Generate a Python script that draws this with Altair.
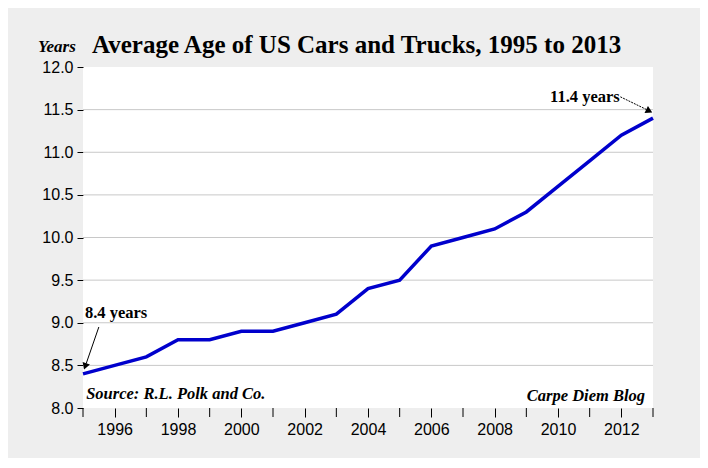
import altair as alt
import pandas as pd

years = list(range(1995, 2014))
ages = [8.4, 8.5, 8.6, 8.8, 8.8, 8.9, 8.9, 9.0, 9.1, 9.4, 9.5, 9.9, 10.0,
        10.1, 10.3, 10.6, 10.9, 11.2, 11.4]
label_years = [1996, 1998, 2000, 2002, 2004, 2006, 2008, 2010, 2012]
odd_years = [1995, 1997, 1999, 2001, 2003, 2005, 2007, 2009, 2011, 2013]
y_ticks = [8.0, 8.5, 9.0, 9.5, 10.0, 10.5, 11.0, 11.5, 12.0]
grid_vals = [8.5, 9.0, 9.5, 10.0, 10.5, 11.0, 11.5]

df = pd.DataFrame({"year": years, "age": ages})

x_scale = alt.Scale(domain=[1995, 2013], nice=False, zero=False)
y_scale = alt.Scale(domain=[8, 12], nice=False, zero=False)

SERIF = "Liberation Serif"
SANS = "Liberation Sans"

grid = alt.Chart(pd.DataFrame({"g": grid_vals})).mark_rule(
    color="#C8C8C8", strokeWidth=1).encode(y=alt.Y("g:Q", scale=y_scale))

line = alt.Chart(df).mark_line(color="#0000CC", strokeWidth=3.5).encode(
    x=alt.X("year:Q", scale=x_scale, title=None,
            axis=alt.Axis(values=label_years, format="d",
                          labelOverlap=False, labelFlush=False, grid=False,
                          domain=False, ticks=True, tickSize=9, tickColor="black",
                          labelPadding=4, labelFont=SANS, labelFontSize=16,
                          labelColor="black")),
    y=alt.Y("age:Q", scale=y_scale, title=None,
            axis=alt.Axis(values=y_ticks, format=".1f", grid=False, domain=False,
                          tickSize=6, tickColor="black", labelPadding=4,
                          labelFont=SANS, labelFontSize=16, labelColor="black")),
)

# minor (odd-year) ticks below the plot, same length as the axis ticks
odd_ticks = alt.Chart(pd.DataFrame({"yr": odd_years})).mark_rule(
    color="black", strokeWidth=1, clip=False).encode(
    x=alt.X("yr:Q", scale=x_scale), y=alt.value(341), y2=alt.value(350))

# annotation arrows (data coordinates)
arr1 = pd.DataFrame({"x": [1995.5], "y": [8.95], "x2": [1995.1], "y2": [8.52]})
arr2 = pd.DataFrame({"x": [2011.97], "y": [11.65], "x2": [2012.8], "y2": [11.5]})
rule1 = alt.Chart(arr1).mark_rule(color="black", strokeWidth=1).encode(
    x="x:Q", y="y:Q", x2="x2:Q", y2="y2:Q")
rule2 = alt.Chart(arr2).mark_rule(color="black", strokeWidth=1, strokeDash=[2, 1]).encode(
    x="x:Q", y="y:Q", x2="x2:Q", y2="y2:Q")
head1 = alt.Chart(pd.DataFrame({"x": [1995.08], "y": [8.5]})).mark_point(
    shape="triangle", filled=True, color="black", size=60, angle=199, opacity=1).encode(
    x="x:Q", y="y:Q")
head2 = alt.Chart(pd.DataFrame({"x": [2012.85], "y": [11.49]})).mark_point(
    shape="triangle", filled=True, color="black", size=60, angle=116, opacity=1).encode(
    x="x:Q", y="y:Q")

ann = pd.DataFrame({
    "x": [1995.06, 2011.95],
    "y": [9.11, 11.65],
    "t": ["8.4 years", "11.4 years"],
})
lab1 = alt.Chart(ann.iloc[[0]]).mark_text(
    align="left", baseline="middle", font=SERIF, fontSize=16.5, fontWeight="bold",
    color="black").encode(x="x:Q", y="y:Q", text="t:N")
lab2 = alt.Chart(ann.iloc[[1]]).mark_text(
    align="right", baseline="middle", font=SERIF, fontSize=16.5, fontWeight="bold",
    color="black").encode(x="x:Q", y="y:Q", text="t:N")

notes = pd.DataFrame({"x": [1995.1, 2012.75], "y": [8.16, 8.14],
                      "t": ["Source: R.L. Polk and Co.", "Carpe Diem Blog"]})
src = alt.Chart(notes.iloc[[0]]).mark_text(
    align="left", baseline="middle", font=SERIF, fontSize=16.5, fontWeight="bold",
    fontStyle="italic", color="black").encode(x="x:Q", y="y:Q", text="t:N")
blog = alt.Chart(notes.iloc[[1]]).mark_text(
    align="right", baseline="middle", font=SERIF, fontSize=16.5, fontWeight="bold",
    fontStyle="italic", color="black").encode(x="x:Q", y="y:Q", text="t:N")

years_lbl = alt.Chart(pd.DataFrame({"t": ["Years"]})).mark_text(
    align="left", baseline="middle", font=SERIF, fontSize=17, fontWeight="bold",
    fontStyle="italic", color="black", clip=False).encode(
    x=alt.value(-45), y=alt.value(-20), text="t:N")

chart = alt.layer(grid, line, odd_ticks, rule1, rule2, head1, head2, lab1, lab2,
                  src, blog, years_lbl).properties(
    width=570, height=341,
    title=alt.TitleParams("Average Age of US Cars and Trucks, 1995 to 2013",
                          font=SERIF, fontSize=25, fontWeight="bold", color="black",
                          anchor="start", frame="group", dx=9, dy=30, offset=10),
    autosize=alt.AutoSizeParams(type="none"),
    padding={"left": 75, "top": 59, "right": 47, "bottom": 50},
).configure(background="#EEEEEE").configure_view(fill="white", stroke=None)

chart.save("out.html", embed_options={"renderer": "svg", "actions": False})
